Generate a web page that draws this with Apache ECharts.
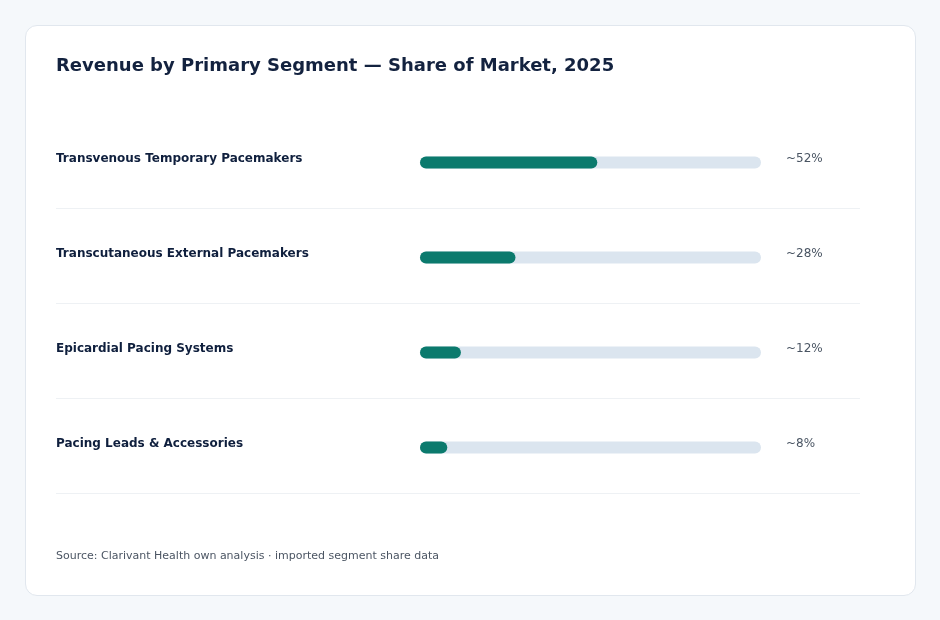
<!DOCTYPE html>
<html>
<head>
<meta charset="utf-8">
<script src="https://cdn.jsdelivr.net/npm/echarts@6/dist/echarts.min.js"></script>
<style>
  html, body { margin: 0; padding: 0; background: #f5f8fb; }
  #card { position: absolute; left: 25px; top: 25px; width: 889px; height: 569px;
          background: #ffffff; border: 1px solid #e1e7ee; border-radius: 12px; }
  #chart { position: absolute; left: 0; top: 0; width: 940px; height: 620px; }
</style>
</head>
<body>
<div id="card"></div>
<div id="chart"></div>
<script>
const categories = [
  'Transvenous Temporary Pacemakers',
  'Transcutaneous External Pacemakers',
  'Epicardial Pacing Systems',
  'Pacing Leads & Accessories'
];
const shares = [52, 28, 12, 8];
const shareLabels = ['~52%', '~28%', '~12%', '~8%'];
const trackMax = 100;

const chart = echarts.init(document.getElementById('chart'), null, { renderer: 'canvas' });
const FONT = 'DejaVu Sans';

chart.setOption({
  backgroundColor: 'transparent',
  animation: false,
  title: {
    text: 'Revenue by Primary Segment — Share of Market, 2025',
    left: 56, top: 57, padding: 0,
    textStyle: { fontFamily: FONT, fontSize: 18, fontWeight: 'bold', color: '#13223f' }
  },
  graphic: [{
    type: 'text', left: 56, top: 551,
    style: { text: 'Source: Clarivant Health own analysis · imported segment share data',
             font: '11px "DejaVu Sans"', fill: '#4b5563' }
  }],
  grid: [
    { left: 420, right: 179, top: 115, height: 380 },
    { left: 56, right: 80, top: 113, height: 380 }
  ],
  xAxis: [
    { gridIndex: 0, type: 'value', min: 0, max: trackMax, show: false },
    { gridIndex: 1, type: 'value', min: 0, max: 1, show: false }
  ],
  yAxis: [
    {
      gridIndex: 0, type: 'category', data: categories, inverse: true,
      axisLine: { show: false }, axisTick: { show: false }, splitLine: { show: false },
      axisLabel: {
        align: 'left', margin: 364, verticalAlign: 'bottom', lineHeight: 8,
        fontFamily: FONT, fontSize: 12, fontWeight: 'bold', color: '#0f1f3d'
      }
    },
    {
      gridIndex: 1, type: 'category', data: categories, inverse: true,
      axisLine: { show: false }, axisTick: { show: false }, axisLabel: { show: false },
      splitLine: { show: true, showMinLine: false, showMaxLine: true,
                   lineStyle: { color: '#eef1f4', width: 1 } }
    }
  ],
  series: [
    {
      type: 'bar', xAxisIndex: 0, yAxisIndex: 0,
      data: categories.map(() => trackMax),
      barWidth: 12, barGap: '-100%', silent: true,
      itemStyle: { color: '#dbe5ef', borderRadius: 6 },
      label: {
        show: true, position: 'right', distance: 25, offset: [0, -4],
        formatter: (p) => shareLabels[p.dataIndex],
        fontFamily: FONT, fontSize: 12, color: '#4a5563'
      }
    },
    {
      type: 'bar', xAxisIndex: 0, yAxisIndex: 0,
      data: shares,
      barWidth: 12, barGap: '-100%',
      itemStyle: { color: '#0b7a6d', borderRadius: 6 }
    }
  ]
});
</script>
</body>
</html>
